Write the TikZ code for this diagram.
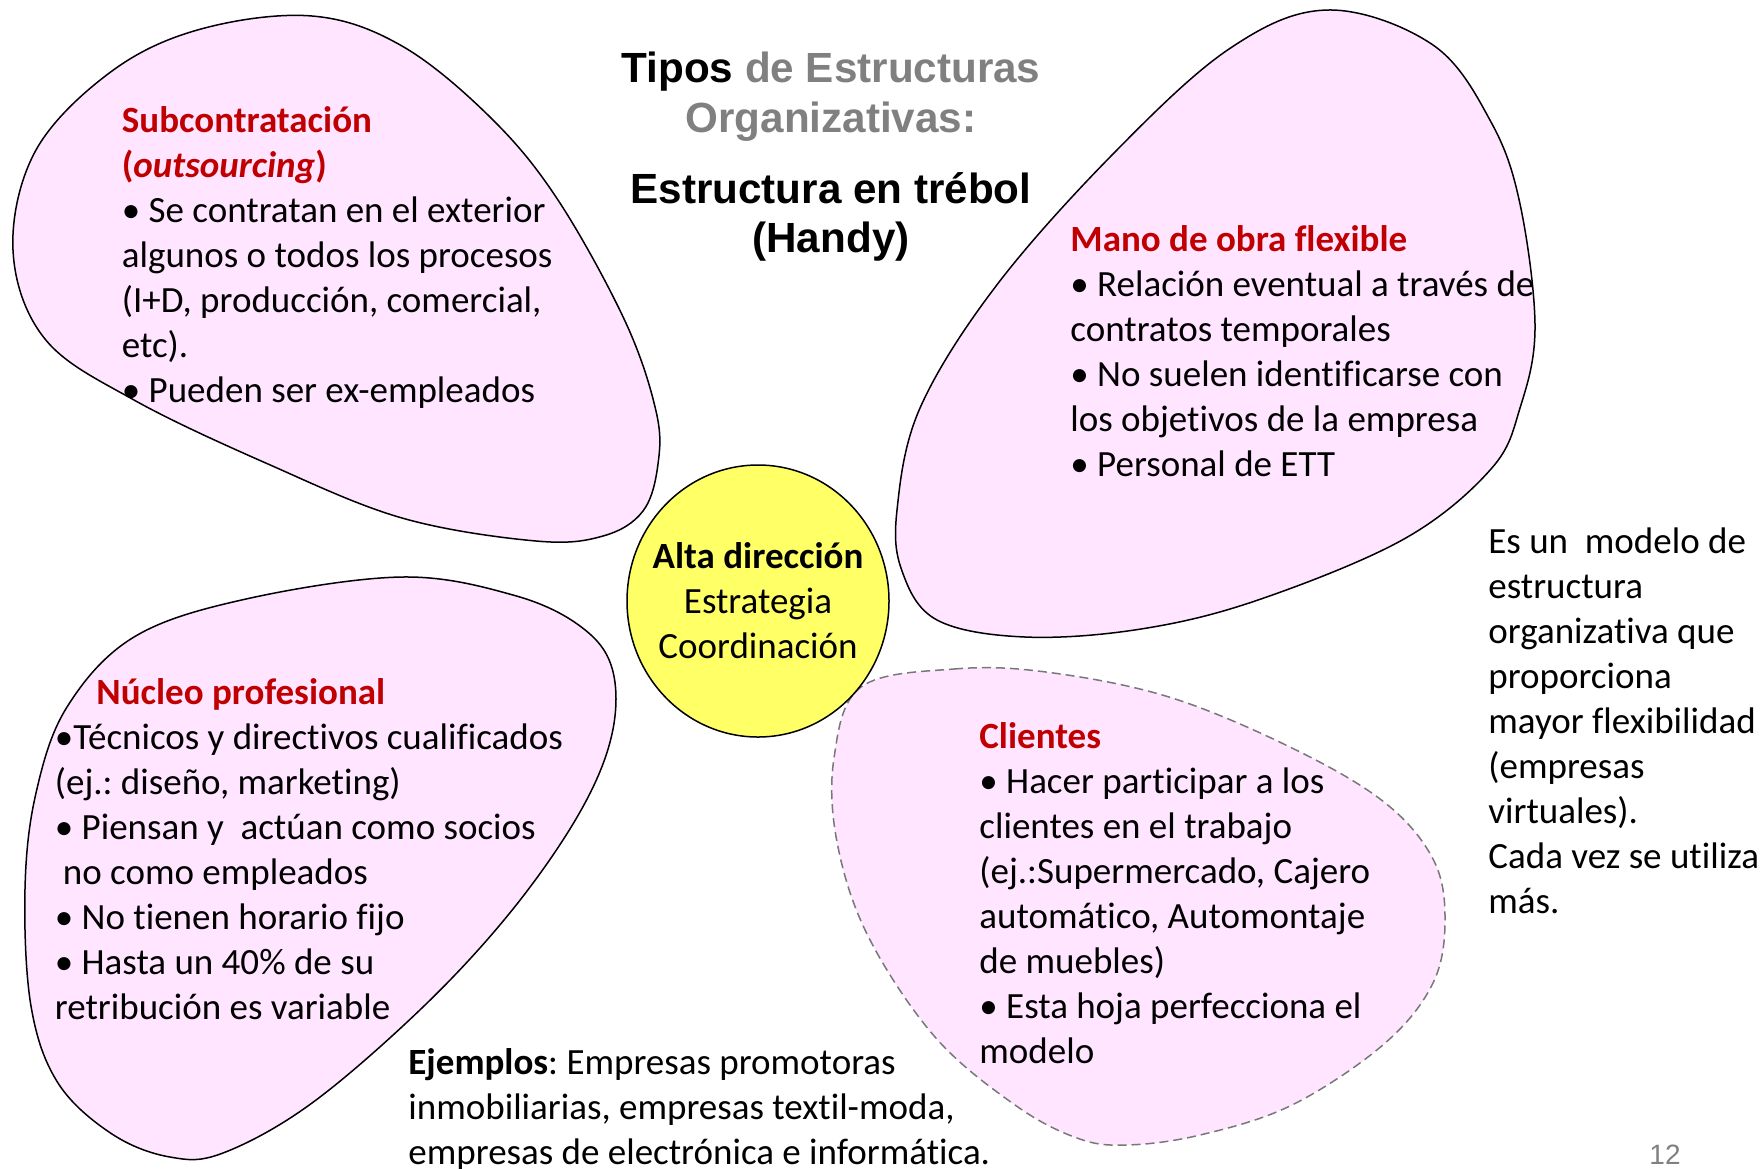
\documentclass[tikz,border=0pt]{standalone}
\usepackage{fontspec}
\setmainfont{Carlito}[Ligatures={NoCommon}]
\newfontfamily\arialf{Liberation Sans}
\usetikzlibrary{shapes.geometric}
\definecolor{petal}{RGB}{255,229,255}
\definecolor{hred}{RGB}{192,0,0}
\definecolor{ttlgray}{RGB}{128,128,128}
\definecolor{circy}{RGB}{255,255,102}
\definecolor{dashgray}{RGB}{120,120,120}
\frenchspacing
\begin{document}
\frenchspacing
\begin{tikzpicture}[x=0.5pt,y=-0.5pt,
  petalstyle/.style={fill=petal,draw=black,line width=0.75pt},
  dpetal/.style={fill=petal,draw=dashgray,line width=0.75pt,dash pattern=on 4.5pt off 2.5pt},
  body/.style={font=\frenchspacing\fontsize{18.5pt}{22.5pt}\selectfont,inner sep=0pt,anchor=base west,align=left},
  ttl/.style={font=\arialf\bfseries\fontsize{21.1pt}{25pt}\selectfont,inner sep=0pt,anchor=base,align=center},
  head/.style={text=hred,font=\bfseries\fontsize{18.5pt}{22.5pt}\selectfont}]
\useasboundingbox (0,0) rectangle (1764,1168);

% petals
\path[petalstyle] plot[smooth cycle,tension=0.6] coordinates {(312,16) (402,46) (491,118) (558,200) (625,321) (656,411) (658,464) (643,511) (603,536) (536,541) (402,518) (268,464) (134,400) (45,339) (13,250) (36,150) (112,71) (201,29)};
\path[petalstyle] plot[smooth cycle,tension=0.6] coordinates {(1328,10) (1433,45) (1491,122) (1520,204) (1535,327) (1520,408) (1491,469) (1404,539) (1258,600) (1141,629) (1025,637) (937,620) (902,571) (897,510) (920,408) (996,286) (1112,155) (1229,49)};
\path[petalstyle] plot[smooth cycle,tension=0.6] coordinates {(402,577) (513,595) (580,626) (612,668) (612,734) (580,812) (513,909) (424,1006) (312,1103) (223,1153) (170,1157) (112,1134) (58,1083) (31,1006) (25,889) (36,793) (67,707) (134,637) (246,599)};
\path[dpetal] plot[smooth cycle,tension=0.6] coordinates {(861,687) (954,669) (1046,672) (1169,697) (1292,748) (1384,802) (1433,859) (1445,919) (1433,983) (1384,1044) (1292,1105) (1200,1135) (1126,1145) (1077,1138) (1015,1105) (935,1037) (868,936) (837,842) (834,758)};

% centre
\node[ellipse,fill=circy,draw=black,line width=0.75pt,minimum width=131pt,minimum height=136pt,inner sep=0pt] (core) at (758,601) {};
\node[inner sep=0pt,align=center,font=\fontsize{18.5pt}{22.5pt}\selectfont] (coretext) at (core.center) {\textbf{Alta dirección}\\Estrategia\\Coordinación};

% title
\node[ttl] (t1) at (831,82) {Tipos \textcolor{ttlgray}{de Estructuras}};
\node[ttl,text=ttlgray] (t2) at (831,132) {Organizativas:};
\node[ttl] (t3) at (831,203) {Estructura en trébol};
\node[ttl] (t4) at (831,252) {(Handy)};

% blocks (anchor = baseline of the last line)
\node[body] (sub) at (121.5,402.5) {\textcolor{hred}{\textbf{Subcontratación}}\\
\textcolor{hred}{\textbf{(\textit{outsourcing})}}\\
• Se contratan en el exterior\\
algunos o todos los procesos\\
(I+D, producción, comercial,\\
etc).\\
• Pueden ser ex-empleados};

\node[body] (mano) at (1070,476) {\textcolor{hred}{\textbf{Mano de obra flexible}}\\
• Relación eventual a través de\\
contratos temporales\\
• No suelen identificarse con\\
los objetivos de la empresa\\
• Personal de ETT};

\node[body,head] (nuc) at (96,704) {Núcleo profesional};
\node[body] (nucb) at (54.5,1019) {•Técnicos y directivos cualificados\\
(ej.: diseño, marketing)\\
• Piensan y\ \ actúan como socios\\
\hspace*{4pt}no como empleados\\
• No tienen horario fijo\\
• Hasta un 40\% de su\\
retribución es variable};

\node[body] (cli) at (979,1063) {\textcolor{hred}{\textbf{Clientes}}\\
• Hacer participar a los\\
clientes en el trabajo\\
(ej.:Supermercado, Cajero\\
automático, Automontaje\\
de muebles)\\
• Esta hoja perfecciona el\\
modelo};

\node[body] (side) at (1488,913) {Es un\ \ modelo de\\
estructura\\
organizativa que\\
proporciona\\
mayor flexibilidad\\
(empresas\\
virtuales).\\
Cada vez se utiliza\\
más.};

\node[body] (ej) at (408,1164) {\textbf{Ejemplos}: Empresas promotoras\\
inmobiliarias, empresas textil-moda,\\
empresas de electrónica e informática.};

\node[inner sep=0pt,anchor=base,text=ttlgray,font=\arialf\fontsize{14pt}{16pt}\selectfont] (pg) at (1665,1164) {12};
\end{tikzpicture}
\end{document}
